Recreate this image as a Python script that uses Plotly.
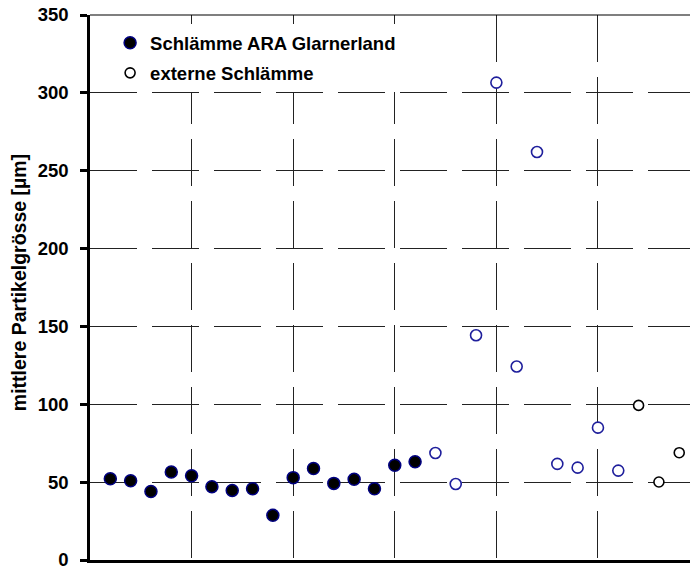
import plotly.graph_objects as go

# Mean particle size per sample [µm]
ara_idx = list(range(1, 17))
ara_vals = [52.2, 50.9, 44.0, 56.5, 54.1, 47.1, 44.7, 45.8, 28.7, 52.9,
            58.8, 49.2, 51.8, 45.8, 60.8, 63.1]

ext_idx = list(range(17, 27))
ext_vals = [68.7, 48.8, 144.3, 306.6, 124.3, 262.0, 61.7, 59.3, 85.0, 57.4]

ext2_idx = [27, 28, 29]
ext2_vals = [99.3, 50.1, 68.9]

y_ticks = [0, 50, 100, 150, 200, 250, 300, 350]

FONT = "Liberation Sans, Arial, sans-serif"
GRID_DASH = "47px,15px"

fig = go.Figure()

fig.add_trace(go.Scatter(
    x=ara_idx, y=ara_vals, mode="markers",
    name="Schlämme ARA Glarnerland", legendgroup="a",
    marker=dict(symbol="circle", size=12, color="black",
                line=dict(color="#000080", width=1.5)),
))
fig.add_trace(go.Scatter(
    x=ext_idx, y=ext_vals, mode="markers",
    name="externe Schlämme", legendgroup="b", showlegend=False,
    marker=dict(symbol="circle", size=11, color="white",
                line=dict(color="#1f1f9c", width=1.6)),
))
fig.add_trace(go.Scatter(
    x=ext2_idx, y=ext2_vals, mode="markers",
    name="externe Schlämme", legendgroup="b",
    marker=dict(symbol="circle", size=10, color="white",
                line=dict(color="black", width=1.6)),
))

fig.update_layout(
    width=690, height=572,
    margin=dict(l=90, r=0, t=15, b=12),
    paper_bgcolor="white", plot_bgcolor="white",
    font=dict(family=FONT, color="black"),
    showlegend=True,
    legend=dict(
        x=0.0335, y=0.983, xanchor="left", yanchor="top",
        bgcolor="white", borderwidth=0,
        font=dict(family=FONT, size=18.5, weight="bold", color="black"),
        traceorder="grouped", tracegroupgap=3,
        itemsizing="trace",
    ),
    xaxis=dict(
        range=[0, 29.53], dtick=5, tick0=0,
        showticklabels=False, ticks="",
        showgrid=True, gridcolor="#222", gridwidth=1, griddash=GRID_DASH,
        showline=True, linecolor="black", linewidth=3,
        zeroline=False,
    ),
    yaxis=dict(
        range=[0, 350], tickvals=y_ticks,
        ticks="outside", ticklen=7, tickwidth=2.5, tickcolor="black",
        tickfont=dict(family=FONT, size=18.5, weight="bold", color="black"),
        ticklabelstandoff=8, ticklabeloverflow="allow",
        showgrid=True, gridcolor="#222", gridwidth=1, griddash=GRID_DASH,
        showline=True, linecolor="black", linewidth=2.5,
        zeroline=False,
        automargin=False,
    ),
    annotations=[dict(
        text="mittlere Partikelgrösse [µm]", textangle=-90,
        xref="paper", yref="paper", x=-0.1183, y=0.508,
        xanchor="center", yanchor="middle", showarrow=False,
        font=dict(family=FONT, size=19.5, weight="bold", color="black"),
    )],
)

# thin frame line along the top of the plotting area
fig.add_shape(type="line", xref="paper", yref="paper",
              x0=0, x1=1, y0=1, y1=1,
              line=dict(color="black", width=1.2))

fig.write_html("out.html")
